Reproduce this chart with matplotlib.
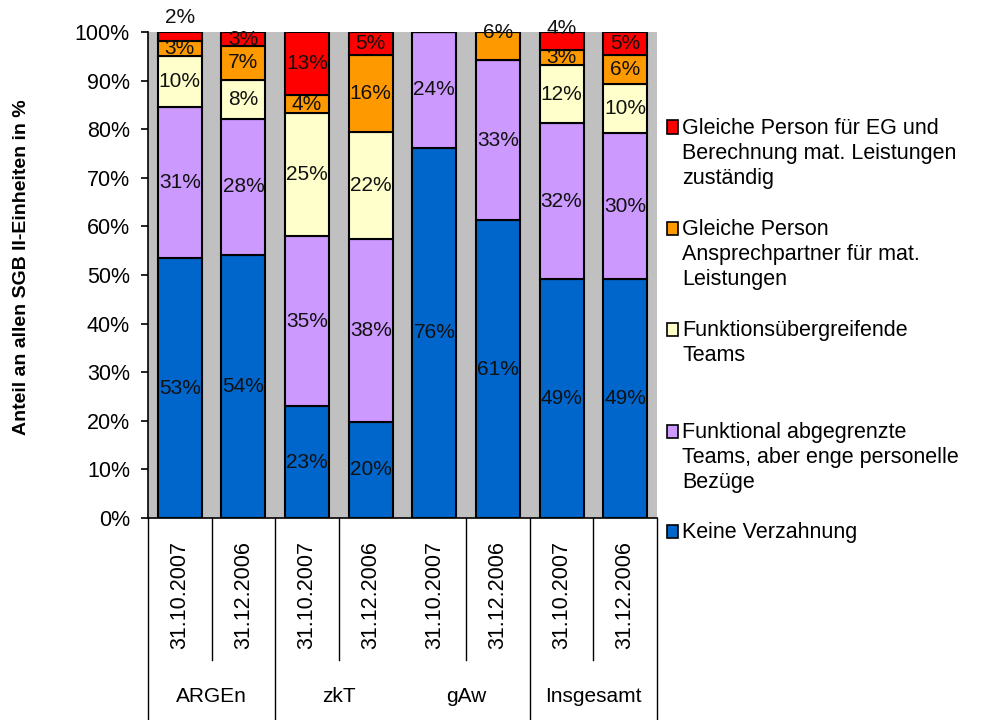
import matplotlib
matplotlib.use("Agg")
import matplotlib.pyplot as plt
from matplotlib.patches import Rectangle
from matplotlib.lines import Line2D
import numpy as np

plt.rcParams['font.family'] = ['Liberation Sans', 'DejaVu Sans']

# Daten (Anteile in %, von unten nach oben gestapelt)
dates = ["31.10.2007", "31.12.2006"] * 4
groups = ["ARGEn", "zkT", "gAw", "Insgesamt"]
series = ["Keine Verzahnung",
          "Funktional abgegrenzte\nTeams, aber enge personelle\nBezüge",
          "Funktionsübergreifende\nTeams",
          "Gleiche Person\nAnsprechpartner für mat.\nLeistungen",
          "Gleiche Person für EG und\nBerechnung mat. Leistungen\nzuständig"]
keine      = [53.4, 54.2, 23.0, 19.8, 76.2, 61.3, 49.1, 49.1]
funktional = [31.2, 27.9, 35.0, 37.7, 23.8, 32.9, 32.1, 30.1]
uebergr    = [10.4,  8.1, 25.3, 22.0,  0.0,  0.0, 12.0, 10.1]
ansprech   = [ 3.1,  6.9,  3.7, 15.8,  0.0,  5.8,  3.0,  6.0]
gleiche    = [ 1.9,  2.9, 13.0,  4.7,  0.0,  0.0,  3.8,  4.7]
colors = ["#0066CC", "#CC99FF", "#FFFFCC", "#FF9900", "#FF0000"]

values = [keine, funktional, uebergr, ansprech, gleiche]

fig = plt.figure(figsize=(9.84, 7.2), dpi=100)
ax = fig.add_axes([0.1504, 0.2806, 0.5173, 0.675])
ax.set_facecolor("#C0C0C0")

x = np.arange(len(dates))
bottom = np.zeros(len(dates))
# einige kleine Beschriftungen sind in der Vorlage verschoben
label_pos = {(0, 4): 103.0, (5, 3): 99.8, (6, 4): 100.8}
for k, vals in enumerate(values):
    vals = np.array(vals)
    ax.bar(x, vals, 0.69, bottom=bottom, color=colors[k],
           edgecolor="black", linewidth=1.5, zorder=2)
    for i, v in enumerate(vals):
        if v <= 0:
            continue
        y = label_pos.get((i, k), bottom[i] + v / 2)
        ax.text(x[i], y, "%d%%" % round(v), ha="center", va="center",
                fontsize=15, color="#111111", zorder=3, clip_on=False)
    bottom += vals

ax.set_xlim(-0.5, len(dates) - 0.5)
ax.set_ylim(0, 100)
ax.set_yticks(np.arange(0, 101, 10))
ax.set_yticklabels(["%d%%" % t for t in range(0, 101, 10)], fontsize=15.5)
ax.tick_params(axis="y", direction="out", length=5, width=1.2, pad=8)
ax.set_xticks([])
for s in ["top", "right"]:
    ax.spines[s].set_visible(False)
ax.spines["left"].set_linewidth(1.2)
ax.spines["bottom"].set_linewidth(1.2)
ax.set_ylabel("Anteil an allen SGB II-Einheiten in %", fontsize=14,
              fontweight="bold")
ax.yaxis.set_label_coords(-0.232, 0.515)

# zweistufige Kategorieachse
tr = ax.get_xaxis_transform()
for i, d in enumerate(dates):
    ax.text(x[i], -0.158, d, rotation=90, ha="center", va="center",
            fontsize=15.5, transform=tr)
for j, g in enumerate(groups):
    ax.text(2 * j + 0.5, -0.368, g, ha="center", va="center",
            fontsize=15, transform=tr)
for xl in [-0.5, 1.5, 5.5, 7.5]:
    ax.add_line(Line2D([xl, xl], [0, -0.42], transform=tr, color="black",
                       linewidth=1, clip_on=False))
for xs in [0.5, 2.5, 4.5, 6.5]:
    ax.add_line(Line2D([xs, xs], [0, -0.292], transform=tr, color="black",
                       linewidth=1, clip_on=False))

# Legende (rechts, erste Zeile am Symbol ausgerichtet)
leg_y = [0.804, 0.596, 0.387, 0.177, -0.029]
for k in range(4, -1, -1):
    yk = leg_y[4 - k]
    ax.add_patch(Rectangle((1.02, yk - 0.013), 0.022, 0.027,
                           transform=ax.transAxes, facecolor=colors[k],
                           edgecolor="black", linewidth=1.2, clip_on=False))
    ax.text(1.05, yk + 0.02, series[k], transform=ax.transAxes,
            ha="left", va="top", fontsize=15.5, linespacing=1.25)

fig.savefig("out.png", dpi=100)
